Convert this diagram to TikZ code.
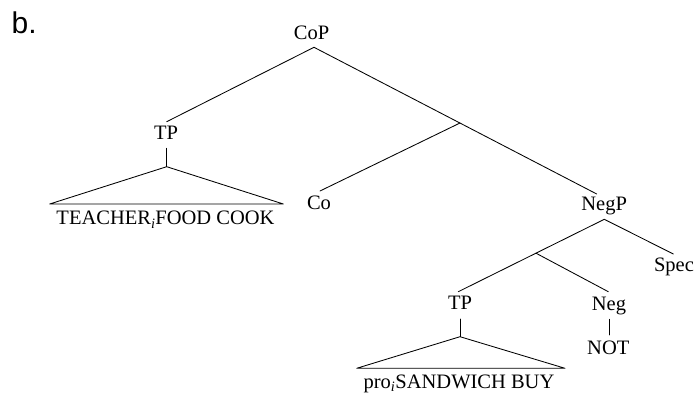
\documentclass[tikz,border=0pt]{standalone}
\usepackage{fontspec}
\setmainfont{Liberation Serif}
\newfontfamily\labelsans{Liberation Sans}
\begin{document}
\begin{tikzpicture}[x=1pt,y=-1pt,
  lab/.style={inner sep=0pt,anchor=base,font=\fontsize{20.5}{24}\selectfont},
  branch/.style={line width=0.85pt,line cap=round,line join=round}]
\useasboundingbox (0,0) rectangle (697,393);
% label
\node[inner sep=0pt,anchor=base west,font=\labelsans\fontsize{30}{36}\selectfont] (blabel) at (11.5,33.3) {b.};
% nodes
\node[lab] (CoP) at (311.5,39.3) {CoP};
\node[lab] (TPa) at (166,139.3) {TP};
\node[lab] (TEACH) at (165.5,225) {TEACHER\textsubscript{\textit{i}}FOOD COOK};
\node[lab] (Co) at (319,210) {Co};
\node[lab] (NegP) at (604.2,210.7) {NegP};
\node[lab] (Spec) at (674,271.7) {Spec};
\node[lab] (TPb) at (460,309.3) {TP};
\node[lab] (Neg) at (609,310) {Neg};
\node[lab] (NOT) at (608.3,354) {NOT};
\node[lab] (PRO) at (459,388) {pro\textsubscript{\textit{i}}SANDWICH BUY};
% junctions and triangles
\coordinate (J1) at (460,123);
\coordinate (J2) at (536,253.2);
\coordinate (triA) at (166.7,166.7);
\coordinate (triAL) at (49.7,204);
\coordinate (triAR) at (283.3,204);
\coordinate (triB) at (460,336.7);
\coordinate (triBL) at (356.7,368.3);
\coordinate (triBR) at (565,368.3);
% branches
\draw[branch] ([shift={(2.5,8)}]CoP.base) -- ([shift={(0.7,-17.6)}]TPa.base);
\draw[branch] ([shift={(2.5,8)}]CoP.base) -- ([shift={(-7.5,-16.7)}]NegP.base);
\draw[branch] (J1) -- ([shift={(1,-19)}]Co.base);
\draw[branch] ([shift={(0.7,9)}]TPa.base) -- (triA);
\draw[branch] (triA) -- (triAL) -- (triAR) -- cycle;
\draw[branch] ([shift={(0.1,8.6)}]NegP.base) -- ([shift={(-1.7,-17.6)}]TPb.base);
\draw[branch] ([shift={(0.1,8.6)}]NegP.base) -- ([shift={(-0.7,-17.7)}]Spec.base);
\draw[branch] (J2) -- ([shift={(-0.7,-18.3)}]Neg.base);
\draw[branch] ([shift={(0,9.7)}]TPb.base) -- (triB);
\draw[branch] (triB) -- (triBL) -- (triBR) -- cycle;
\draw[branch] ([shift={(0.3,9.3)}]Neg.base) -- ([shift={(1,-19)}]NOT.base);
\end{tikzpicture}
\end{document}
